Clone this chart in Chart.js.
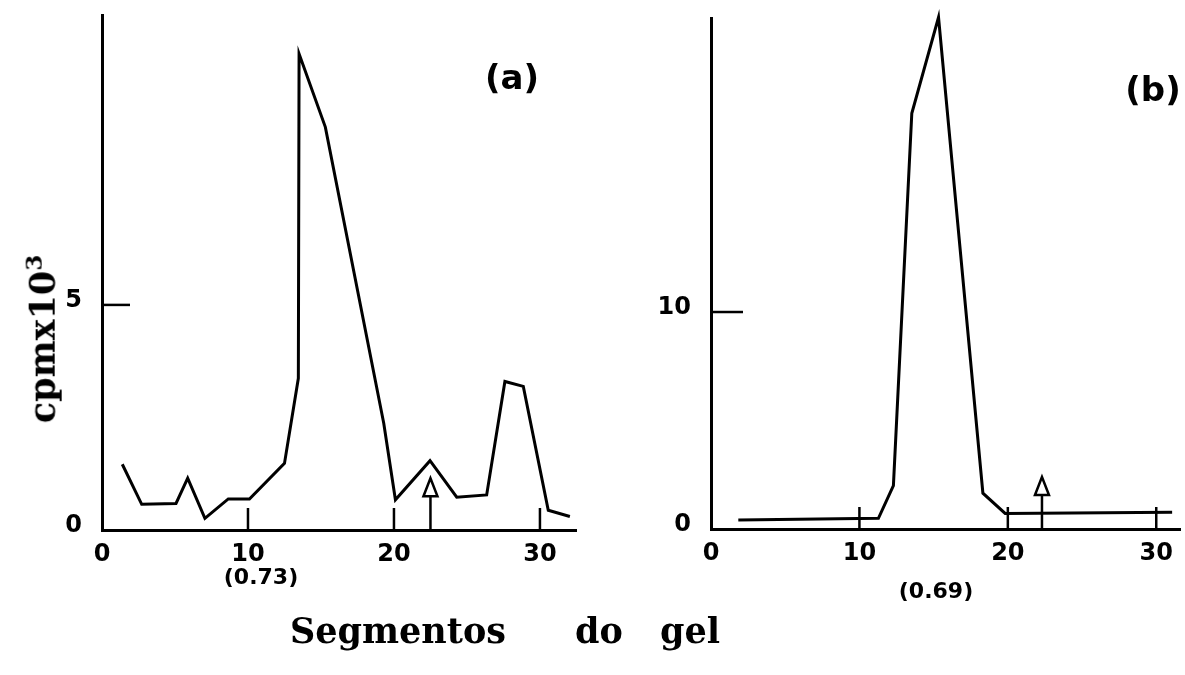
<!DOCTYPE html>
<html>
<head>
<meta charset="utf-8">
<script src="https://cdn.jsdelivr.net/npm/chart.js@4.4.0/dist/chart.umd.min.js"></script>
<style>
body{margin:0;width:1185px;height:675px;background:#fff;position:relative;overflow:hidden;}
canvas{position:absolute;top:0;}
.t{position:absolute;transform:translate(-50%,-50%);white-space:nowrap;color:#000;}
.panel{font:bold 34px "DejaVu Sans";}
.rf{font:bold 22px "DejaVu Sans";}
.ttl{font:bold 35px "DejaVu Serif";}
.w{position:absolute;top:630px;transform:translateY(-50%);font:bold 35px "DejaVu Serif";}
</style>
</head>
<body>

<canvas id="chartA" width="592" height="675" style="left:0px"></canvas>
<canvas id="chartB" width="585" height="675" style="left:600px"></canvas>

<div class="t panel" style="left:512px;top:77px">(a)</div>
<div class="t panel" style="left:1153px;top:89px">(b)</div>
<div class="t rf" style="left:261px;top:576px">(0.73)</div>
<div class="t rf" style="left:936px;top:590px">(0.69)</div>
<div class="t ttl" style="left:41px;top:339px;transform:translate(-50%,-50%) rotate(-90deg)">cpmx10<sup style="font-size:23px">3</sup></div>
<span class="w" style="left:290px">Segmentos</span>
<span class="w" style="left:575px">do</span>
<span class="w" style="left:660px">gel</span>

<script>
/* ================= DATA ================= */

// panel (a)
const segA=[1.39,2.72,5.07,5.87,7.05,8.65,10.1,12.5,13.45,13.5,15.3,19.3,20.1,22.47,24.3,26.35,27.6,28.86,30.57,32.05];
const cpmA=[1.46,0.57,0.59,1.15,0.26,0.69,0.69,1.48,3.37,10.58,8.95,2.37,0.67,1.54,0.73,0.78,3.3,3.19,0.44,0.30];
const xTicksA=[0,10,20,30];
const yTicksA=[0,5];

// panel (b)
const segB=[1.84,11.28,12.29,13.53,15.33,18.32,19.82,31.07];
const cpmB=[0.41,0.49,2.0,19.16,23.58,1.65,0.72,0.77];
const xTicksB=[0,10,20,30];
const yTicksB=[0,10];

// arrows (segment, height of tip)
const arrowSeg=[22.5,22.3];
const arrowTip=[1.15,2.4];


/* ================= PLUGIN ================= */

const innerMarks={
id:"innerMarks",
afterDatasetsDraw(chart,args,o){
const {ctx,scales:{x,y}}=chart;
ctx.save();
ctx.strokeStyle="#000";
ctx.lineWidth=2.5;

o.xTicks.forEach(v=>{
if(v===0) return;
const px=x.getPixelForValue(v);
ctx.beginPath();
ctx.moveTo(px,y.bottom);
ctx.lineTo(px,y.bottom-o.xLen);
ctx.stroke();
});

o.yTicks.forEach(v=>{
if(v===0) return;
const py=y.getPixelForValue(v);
ctx.beginPath();
ctx.moveTo(x.left,py);
ctx.lineTo(x.left+o.yLen,py);
ctx.stroke();
});

// arrow
const px=x.getPixelForValue(o.arrowX);
const tip=y.getPixelForValue(o.arrowY);
const base=tip+18;
ctx.beginPath();
ctx.moveTo(px,y.bottom);
ctx.lineTo(px,base);
ctx.stroke();
ctx.beginPath();
ctx.moveTo(px,tip);
ctx.lineTo(px-7,base);
ctx.lineTo(px+7,base);
ctx.closePath();
ctx.fillStyle="#fff";
ctx.fill();
ctx.stroke();

ctx.restore();
}
};


/* ================= CHARTS ================= */

function makeChart(id,segs,vals,cfg){

const points=segs.map((s,i)=>({x:s,y:vals[i]}));
const tickFont={family:"DejaVu Sans",size:24,weight:"bold"};

return new Chart(document.getElementById(id),{
type:"line",
data:{datasets:[{
data:points,
borderColor:"#000",
borderWidth:3,
pointRadius:0,
tension:0,
clip:false
}]},
options:{
responsive:false,
animation:false,
events:[],
layout:{padding:cfg.padding},
plugins:{
legend:{display:false},
tooltip:{enabled:false},
innerMarks:{xTicks:cfg.xTicks,yTicks:cfg.yTicks,xLen:22,yLen:cfg.yLen,arrowX:cfg.arrowX,arrowY:cfg.arrowY}
},
scales:{
x:{
type:"linear",
min:0,max:cfg.xMax,
afterBuildTicks:s=>{s.ticks=cfg.xTicks.map(v=>({value:v}));},
afterFit:s=>{s.height=cfg.xHeight;s.paddingLeft=0;s.paddingRight=0;},
grid:{display:false,drawTicks:false},
border:{display:true,color:"#000",width:3},
ticks:{font:tickFont,color:"#000",padding:10,maxRotation:0,autoSkip:false}
},
y:{
min:0,max:cfg.yMax,
afterBuildTicks:s=>{s.ticks=cfg.yTicks.map(v=>({value:v}));},
afterFit:s=>{s.width=cfg.yWidth;s.paddingTop=0;s.paddingBottom=0;},
grid:{display:false,drawTicks:false},
border:{display:true,color:"#000",width:3},
ticks:{font:tickFont,color:"#000",padding:20,labelOffset:-4,autoSkip:false}
}
}
},
plugins:[innerMarks]
});

}

makeChart("chartA",segA,cpmA,{
padding:{top:15,right:16,left:0,bottom:0},
xMax:32.47,yMax:11.44,xHeight:145,yWidth:102,
xTicks:xTicksA,yTicks:yTicksA,yLen:28,
arrowX:arrowSeg[0],arrowY:arrowTip[0]
});

makeChart("chartB",segB,cpmB,{
padding:{top:18,right:5,left:0,bottom:0},
xMax:31.6,yMax:23.55,xHeight:146,yWidth:111,
xTicks:xTicksB,yTicks:yTicksB,yLen:32,
arrowX:arrowSeg[1],arrowY:arrowTip[1]
});
</script>
</body>
</html>
